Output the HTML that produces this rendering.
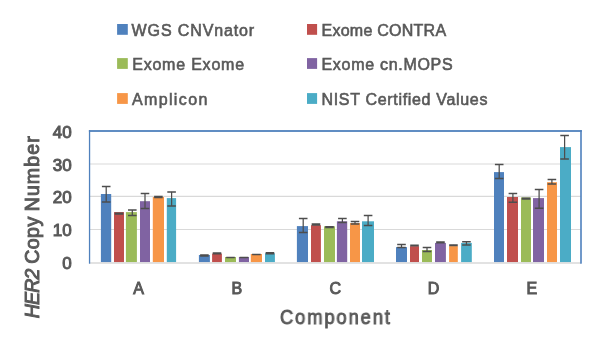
<!DOCTYPE html>
<html><head><meta charset="utf-8"><style>
html,body{margin:0;padding:0;background:#fff;width:600px;height:351px;overflow:hidden}
svg{display:block;will-change:transform}
text{font-family:"Liberation Sans",sans-serif;font-weight:normal;fill:#595959;stroke:#595959}
</style></head><body>
<svg width="600" height="351" viewBox="0 0 600 351">
<defs><filter id="bl" x="0" y="0" width="600" height="351" filterUnits="userSpaceOnUse"><feGaussianBlur stdDeviation="0.35"/></filter></defs>
<rect width="600" height="351" fill="#fff"/>
<g filter="url(#bl)">
<g font-size="16" stroke-width="0.6">
<rect x="117.1" y="24" width="10.7" height="10.8" fill="#4F81BD"/>
<text x="131.6" y="35.8" textLength="122.6" lengthAdjust="spacing">WGS CNVnator</text>
<rect x="307" y="24" width="10.1" height="10.8" fill="#C0504D"/>
<text x="321.5" y="35.8" textLength="124.6" lengthAdjust="spacing">Exome CONTRA</text>
<rect x="117.1" y="58.1" width="10.7" height="10.8" fill="#9BBB59"/>
<text x="132.2" y="70.0" textLength="111.9" lengthAdjust="spacing">Exome Exome</text>
<rect x="307" y="58.1" width="10.1" height="10.8" fill="#8064A2"/>
<text x="321.5" y="70.0" textLength="131.1" lengthAdjust="spacing">Exome cn.MOPS</text>
<rect x="117.1" y="93.1" width="10.7" height="10.8" fill="#F79646"/>
<text x="132" y="104.5" textLength="75.3" lengthAdjust="spacing">Amplicon</text>
<rect x="307" y="93.1" width="10.1" height="10.8" fill="#4BACC6"/>
<text x="321.5" y="104.5" textLength="165.9" lengthAdjust="spacing">NIST Certified Values</text>
</g>
<line x1="89.5" x2="581.0" y1="229.5" y2="229.5" stroke="#D9D9D9" stroke-width="1.2"/>
<line x1="89.5" x2="581.0" y1="196.4" y2="196.4" stroke="#D9D9D9" stroke-width="1.2"/>
<line x1="89.5" x2="581.0" y1="164.0" y2="164.0" stroke="#D9D9D9" stroke-width="1.2"/>
<rect x="100.9" y="194.0" width="10.3" height="68.2" fill="#4F81BD"/>
<rect x="114" y="212.1" width="10.0" height="50.1" fill="#C0504D"/>
<rect x="125.9" y="212.1" width="11.0" height="50.1" fill="#9BBB59"/>
<rect x="140" y="201.2" width="10.0" height="61.0" fill="#8064A2"/>
<rect x="152.8" y="197.0" width="11.2" height="65.2" fill="#F79646"/>
<rect x="166.8" y="198.1" width="9.3" height="64.1" fill="#4BACC6"/>
<rect x="198.9" y="255.0" width="11.0" height="7.2" fill="#4F81BD"/>
<rect x="212.1" y="253.6" width="9.8" height="8.6" fill="#C0504D"/>
<rect x="225" y="257.0" width="11.0" height="5.2" fill="#9BBB59"/>
<rect x="238.9" y="257.0" width="10.1" height="5.2" fill="#8064A2"/>
<rect x="250.8" y="254.0" width="11.2" height="8.2" fill="#F79646"/>
<rect x="265" y="253.3" width="9.9" height="8.9" fill="#4BACC6"/>
<rect x="296.9" y="226.1" width="11.1" height="36.1" fill="#4F81BD"/>
<rect x="311" y="225.2" width="9.9" height="37.0" fill="#C0504D"/>
<rect x="324" y="226.3" width="11.0" height="35.9" fill="#9BBB59"/>
<rect x="336.9" y="221.3" width="10.3" height="40.9" fill="#8064A2"/>
<rect x="350" y="223.1" width="10.0" height="39.1" fill="#F79646"/>
<rect x="362" y="221.3" width="12.0" height="40.9" fill="#4BACC6"/>
<rect x="396" y="247.1" width="11.0" height="15.1" fill="#4F81BD"/>
<rect x="410" y="246.2" width="9.0" height="16.0" fill="#C0504D"/>
<rect x="422" y="250.0" width="10.0" height="12.2" fill="#9BBB59"/>
<rect x="435" y="242.9" width="10.9" height="19.3" fill="#8064A2"/>
<rect x="449.1" y="246.1" width="8.7" height="16.1" fill="#F79646"/>
<rect x="461.1" y="242.9" width="10.7" height="19.3" fill="#4BACC6"/>
<rect x="494" y="172.1" width="10.0" height="90.1" fill="#4F81BD"/>
<rect x="507" y="197.0" width="11.0" height="65.2" fill="#C0504D"/>
<rect x="521" y="197.5" width="10.0" height="64.7" fill="#9BBB59"/>
<rect x="533" y="198.1" width="11.0" height="64.1" fill="#8064A2"/>
<rect x="547" y="182.2" width="10.0" height="80.0" fill="#F79646"/>
<rect x="560" y="147.1" width="11.0" height="115.1" fill="#4BACC6"/>
<line x1="89.5" x2="581.0" y1="263" y2="263" stroke="#D9D9D9" stroke-width="1.6"/>
<rect x="88.9" y="130.1" width="492.9" height="1.8" fill="#4F81BD"/>
<rect x="88.9" y="130.1" width="1.3" height="133.6" fill="#4F81BD"/>
<rect x="580.2" y="130.1" width="1.6" height="133.6" fill="#4F81BD"/>
<path d="M106.20 186.4 V202.0" stroke="#4d4d4d" stroke-width="1.25" fill="none"/>
<path d="M101.90 186.4 H110.50 M101.90 202.0 H110.50" stroke="#4d4d4d" stroke-width="1.5" fill="none"/>
<path d="M119.00 213.2 V213.9" stroke="#4d4d4d" stroke-width="1.25" fill="none"/>
<path d="M114.70 213.2 H123.30 M114.70 213.9 H123.30" stroke="#4d4d4d" stroke-width="1.5" fill="none"/>
<path d="M132.30 210.0 V215.4" stroke="#4d4d4d" stroke-width="1.25" fill="none"/>
<path d="M128.00 210.0 H136.60 M128.00 215.4 H136.60" stroke="#4d4d4d" stroke-width="1.5" fill="none"/>
<path d="M145.00 193.4 V208.4" stroke="#4d4d4d" stroke-width="1.25" fill="none"/>
<path d="M140.70 193.4 H149.30 M140.70 208.4 H149.30" stroke="#4d4d4d" stroke-width="1.5" fill="none"/>
<path d="M158.40 196.6 V197.4" stroke="#4d4d4d" stroke-width="1.25" fill="none"/>
<path d="M154.10 196.6 H162.70 M154.10 197.4 H162.70" stroke="#4d4d4d" stroke-width="1.5" fill="none"/>
<path d="M171.60 191.9 V205.9" stroke="#4d4d4d" stroke-width="1.25" fill="none"/>
<path d="M167.30 191.9 H175.90 M167.30 205.9 H175.90" stroke="#4d4d4d" stroke-width="1.5" fill="none"/>
<path d="M204.40 255.0 V255.9" stroke="#4d4d4d" stroke-width="1.25" fill="none"/>
<path d="M200.10 255.0 H208.70 M200.10 255.9 H208.70" stroke="#4d4d4d" stroke-width="1.5" fill="none"/>
<path d="M217.00 253.0 V253.8" stroke="#4d4d4d" stroke-width="1.25" fill="none"/>
<path d="M212.70 253.0 H221.30 M212.70 253.8 H221.30" stroke="#4d4d4d" stroke-width="1.5" fill="none"/>
<path d="M230.50 257.4 V257.4" stroke="#4d4d4d" stroke-width="1.25" fill="none"/>
<path d="M226.20 257.4 H234.80 M226.20 257.4 H234.80" stroke="#4d4d4d" stroke-width="1.5" fill="none"/>
<path d="M243.95 257.5 V257.5" stroke="#4d4d4d" stroke-width="1.25" fill="none"/>
<path d="M239.65 257.5 H248.25 M239.65 257.5 H248.25" stroke="#4d4d4d" stroke-width="1.5" fill="none"/>
<path d="M256.40 254.5 V254.5" stroke="#4d4d4d" stroke-width="1.25" fill="none"/>
<path d="M252.10 254.5 H260.70 M252.10 254.5 H260.70" stroke="#4d4d4d" stroke-width="1.5" fill="none"/>
<path d="M269.95 252.8 V253.8" stroke="#4d4d4d" stroke-width="1.25" fill="none"/>
<path d="M265.65 252.8 H274.25 M265.65 253.8 H274.25" stroke="#4d4d4d" stroke-width="1.5" fill="none"/>
<path d="M303.20 218.5 V232.4" stroke="#4d4d4d" stroke-width="1.25" fill="none"/>
<path d="M298.90 218.5 H307.50 M298.90 232.4 H307.50" stroke="#4d4d4d" stroke-width="1.5" fill="none"/>
<path d="M315.95 223.9 V224.9" stroke="#4d4d4d" stroke-width="1.25" fill="none"/>
<path d="M311.65 223.9 H320.25 M311.65 224.9 H320.25" stroke="#4d4d4d" stroke-width="1.5" fill="none"/>
<path d="M329.50 226.8 V227.4" stroke="#4d4d4d" stroke-width="1.25" fill="none"/>
<path d="M325.20 226.8 H333.80 M325.20 227.4 H333.80" stroke="#4d4d4d" stroke-width="1.5" fill="none"/>
<path d="M342.40 218.5 V222.4" stroke="#4d4d4d" stroke-width="1.25" fill="none"/>
<path d="M338.10 218.5 H346.70 M338.10 222.4 H346.70" stroke="#4d4d4d" stroke-width="1.5" fill="none"/>
<path d="M355.00 221.4 V223.9" stroke="#4d4d4d" stroke-width="1.25" fill="none"/>
<path d="M350.70 221.4 H359.30 M350.70 223.9 H359.30" stroke="#4d4d4d" stroke-width="1.5" fill="none"/>
<path d="M368.10 215.5 V225.6" stroke="#4d4d4d" stroke-width="1.25" fill="none"/>
<path d="M363.80 215.5 H372.40 M363.80 225.6 H372.40" stroke="#4d4d4d" stroke-width="1.5" fill="none"/>
<path d="M401.50 244.6 V247.4" stroke="#4d4d4d" stroke-width="1.25" fill="none"/>
<path d="M397.20 244.6 H405.80 M397.20 247.4 H405.80" stroke="#4d4d4d" stroke-width="1.5" fill="none"/>
<path d="M414.50 245.2 V245.8" stroke="#4d4d4d" stroke-width="1.25" fill="none"/>
<path d="M410.20 245.2 H418.80 M410.20 245.8 H418.80" stroke="#4d4d4d" stroke-width="1.5" fill="none"/>
<path d="M427.00 247.4 V251.4" stroke="#4d4d4d" stroke-width="1.25" fill="none"/>
<path d="M422.70 247.4 H431.30 M422.70 251.4 H431.30" stroke="#4d4d4d" stroke-width="1.5" fill="none"/>
<path d="M440.45 241.9 V242.7" stroke="#4d4d4d" stroke-width="1.25" fill="none"/>
<path d="M436.15 241.9 H444.75 M436.15 242.7 H444.75" stroke="#4d4d4d" stroke-width="1.5" fill="none"/>
<path d="M453.45 244.9 V245.6" stroke="#4d4d4d" stroke-width="1.25" fill="none"/>
<path d="M449.15 244.9 H457.75 M449.15 245.6 H457.75" stroke="#4d4d4d" stroke-width="1.5" fill="none"/>
<path d="M466.45 241.8 V245.0" stroke="#4d4d4d" stroke-width="1.25" fill="none"/>
<path d="M462.15 241.8 H470.75 M462.15 245.0 H470.75" stroke="#4d4d4d" stroke-width="1.5" fill="none"/>
<path d="M499.20 164.4 V178.5" stroke="#4d4d4d" stroke-width="1.25" fill="none"/>
<path d="M494.90 164.4 H503.50 M494.90 178.5 H503.50" stroke="#4d4d4d" stroke-width="1.5" fill="none"/>
<path d="M512.90 193.5 V202.2" stroke="#4d4d4d" stroke-width="1.25" fill="none"/>
<path d="M508.60 193.5 H517.20 M508.60 202.2 H517.20" stroke="#4d4d4d" stroke-width="1.5" fill="none"/>
<path d="M526.00 198.2 V199.0" stroke="#4d4d4d" stroke-width="1.25" fill="none"/>
<path d="M521.70 198.2 H530.30 M521.70 199.0 H530.30" stroke="#4d4d4d" stroke-width="1.5" fill="none"/>
<path d="M539.10 189.6 V208.3" stroke="#4d4d4d" stroke-width="1.25" fill="none"/>
<path d="M534.80 189.6 H543.40 M534.80 208.3 H543.40" stroke="#4d4d4d" stroke-width="1.5" fill="none"/>
<path d="M551.90 179.4 V184.0" stroke="#4d4d4d" stroke-width="1.25" fill="none"/>
<path d="M547.60 179.4 H556.20 M547.60 184.0 H556.20" stroke="#4d4d4d" stroke-width="1.5" fill="none"/>
<path d="M564.60 135.4 V159.1" stroke="#4d4d4d" stroke-width="1.25" fill="none"/>
<path d="M560.30 135.4 H568.90 M560.30 159.1 H568.90" stroke="#4d4d4d" stroke-width="1.5" fill="none"/>
<g font-size="17" stroke-width="1.0">
<text x="71.6" y="269.40" text-anchor="end">0</text>
<text x="71.6" y="236.30" text-anchor="end">10</text>
<text x="71.6" y="203.20" text-anchor="end">20</text>
<text x="71.6" y="170.80" text-anchor="end">30</text>
<text x="71.6" y="137.80" text-anchor="end">40</text>
</g>
<g font-size="16" stroke-width="0.95">
<text x="138.65" y="293.7" text-anchor="middle">A</text>
<text x="236.95" y="293.7" text-anchor="middle">B</text>
<text x="335.25" y="293.7" text-anchor="middle">C</text>
<text x="433.55" y="293.7" text-anchor="middle">D</text>
<text x="531.85" y="293.7" text-anchor="middle">E</text>
</g>
<text transform="translate(280,324) scale(0.94,1)" x="0" y="0" font-size="19.5" stroke-width="0.9" textLength="117" lengthAdjust="spacing">Component</text>
<g font-size="19.5" stroke-width="0.95">
<text transform="translate(39.4,318.2) rotate(-90)" font-style="italic" textLength="49.5" lengthAdjust="spacing">HER2</text>
<text transform="translate(39.4,263.8) rotate(-90)" textLength="47" lengthAdjust="spacing">Copy</text>
<text transform="translate(39.4,211.3) rotate(-90)" textLength="75" lengthAdjust="spacing">Number</text>
</g>
</g>
</svg>
</body></html>
